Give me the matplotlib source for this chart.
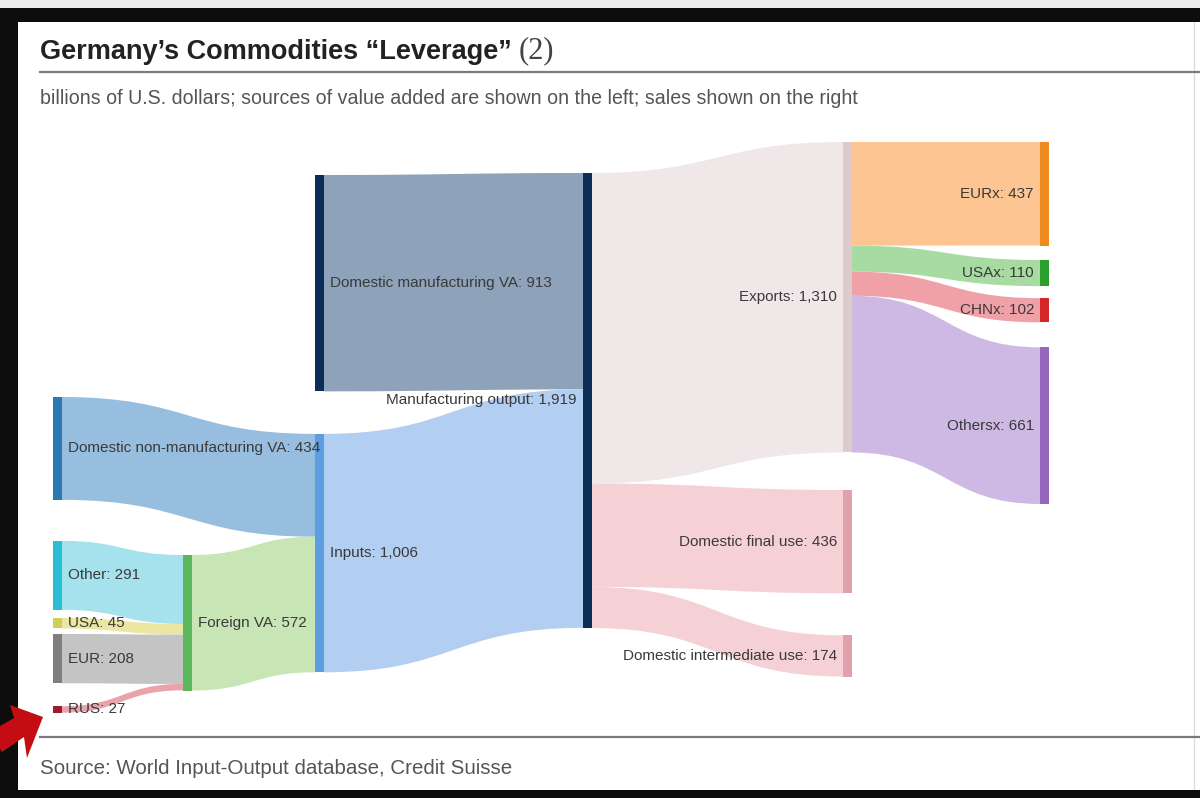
import matplotlib
matplotlib.use('Agg')
import matplotlib.pyplot as plt
from matplotlib.path import Path
from matplotlib.patches import PathPatch, Rectangle, Polygon

# --- data (billions of U.S. dollars) ---
node_names = [
    'Domestic non-manufacturing VA', 'Other', 'USA', 'EUR', 'RUS',
    'Foreign VA',
    'Domestic manufacturing VA', 'Inputs',
    'Manufacturing output',
    'Exports', 'Domestic final use', 'Domestic intermediate use',
    'EURx', 'USAx', 'CHNx', 'Othersx',
]
node_totals = [434, 291, 45, 208, 27, 572, 913, 1006, 1919,
               1310, 436, 174, 437, 110, 102, 661]
node_column = [0, 0, 0, 0, 0, 1, 2, 2, 3, 4, 4, 4, 5, 5, 5, 5]

link_source = [0, 1, 2, 3, 4, 5, 6, 7, 8, 8, 8, 9, 9, 9, 9]
link_target = [7, 5, 5, 5, 5, 7, 8, 8, 9, 10, 11, 12, 13, 14, 15]
link_value = [434, 291, 45, 208, 27, 572, 913, 1006, 1310, 436, 174, 437, 110, 102, 661]

node_colors = [
    '#2b79b4', '#2bbdd4', '#cfcf5c', '#7f7f7f', '#9e1c2a',
    '#5cb85c',
    '#0c2d57', '#5d9de0',
    '#0c2d57',
    '#dccacd', '#e0a1aa', '#e0a1aa',
    '#f08a1e', '#2ca02c', '#d62728', '#9467bd',
]
link_colors = [
    '#98bedf', '#a6e2ee', '#ebe7a2', '#c4c4c4', '#e8a3ab', '#c8e6b5',
    '#8ea3b9', '#b2cef1',
    '#f0e7e9', '#f5d1d6', '#f5d1d6',
    '#fdc591', '#a7dba1', '#f0a1a8', '#cdb9e3',
]

# --- layout (pixels) ---
W, H = 1200, 798
scale = 0.237                      # px per billion
col_x = [53, 183, 315, 583, 843, 1040]
col_top = [397, 555, 175, 173, 142, 142]
node_gap = [0, 41, 8, 5.5, 23, 0, 0, 42.5, 0, 0, 37.5, 42, 0, 14.5, 12, 25]
node_w = 8.5
label_font = 'Liberation Sans'


def layout_nodes():
    tops = []
    last_bottom = {}
    for i, c in enumerate(node_column):
        if c in last_bottom:
            top = last_bottom[c] + node_gap[i]
        else:
            top = col_top[c]
        tops.append(top)
        last_bottom[c] = top + node_totals[i] * scale
    return tops


def link_path(x0, y0a, y0b, x1, y1a, y1b):
    xm = (x0 + x1) / 2
    verts = [(x0, y0a), (xm, y0a), (xm, y1a), (x1, y1a),
             (x1, y1b), (xm, y1b), (xm, y0b), (x0, y0b), (x0, y0a)]
    codes = [Path.MOVETO, Path.CURVE4, Path.CURVE4, Path.CURVE4,
             Path.LINETO, Path.CURVE4, Path.CURVE4, Path.CURVE4, Path.CLOSEPOLY]
    return Path(verts, codes)


def draw_sankey(ax):
    tops = layout_nodes()
    out_off = list(tops)
    in_off = list(tops)

    for k, (s, t, v) in enumerate(zip(link_source, link_target, link_value)):
        h = v * scale
        x0 = col_x[node_column[s]] + node_w
        x1 = col_x[node_column[t]]
        p = link_path(x0, out_off[s], out_off[s] + h, x1, in_off[t], in_off[t] + h)
        ax.add_patch(PathPatch(p, facecolor=link_colors[k], edgecolor='none', zorder=1))
        out_off[s] += h
        in_off[t] += h

    for i, name in enumerate(node_names):
        c = node_column[i]
        h = node_totals[i] * scale
        ax.add_patch(Rectangle((col_x[c], tops[i]), node_w, h,
                               facecolor=node_colors[i], edgecolor='none', zorder=2))
        label = f'{name}: {node_totals[i]:,}'
        yc = tops[i] + h / 2
        if c <= 2:
            ax.text(col_x[c] + node_w + 6, yc, label, ha='left', va='center',
                    fontsize=11, color='#3a3a3a', family=label_font, zorder=3)
        else:
            ax.text(col_x[c] - 6, yc, label, ha='right', va='center',
                    fontsize=11, color='#3a3a3a', family=label_font, zorder=3)


def draw_frame(ax):
    # screenshot frame: grey strip, black borders, red arrow
    ax.add_patch(Rectangle((0, 0), W, 8, facecolor='#ededed', edgecolor='none', zorder=5))
    ax.add_patch(Rectangle((0, 8), W, 14, facecolor='#0d0d0d', edgecolor='none', zorder=5))
    ax.add_patch(Rectangle((0, 8), 18, H - 8, facecolor='#0d0d0d', edgecolor='none', zorder=5))
    ax.add_patch(Rectangle((0, 790), W, 8, facecolor='#0d0d0d', edgecolor='none', zorder=5))
    ax.plot([1194, 1194], [22, 790], color='#dddddd', lw=1, zorder=4)

    ax.plot([40, W], [72, 72], color='#7a7a7a', lw=1.6, zorder=4)
    ax.plot([40, W], [737, 737], color='#7a7a7a', lw=1.6, zorder=4)

    arrow = [(43, 717), (10, 705), (14, 718), (-10, 732), (2, 752),
             (24, 737), (27, 758)]
    ax.add_patch(Polygon(arrow, closed=True, facecolor='#c30d12',
                         edgecolor='none', zorder=6))


def main():
    fig = plt.figure(figsize=(W / 100, H / 100), dpi=100)
    ax = fig.add_axes([0, 0, 1, 1])
    ax.set_xlim(0, W)
    ax.set_ylim(H, 0)
    ax.axis('off')

    draw_sankey(ax)
    draw_frame(ax)

    title = ax.text(40, 59, 'Germany\u2019s Commodities \u201cLeverage\u201d',
                    fontsize=19.5, fontweight='bold', color='#222222',
                    family=label_font, va='baseline', ha='left')
    ax.annotate('(2)', xy=(1, 0), xycoords=title, xytext=(5, 0),
                textcoords='offset points', fontsize=22, color='#444444',
                family='Liberation Serif', va='bottom', ha='left')
    ax.text(40, 104, 'billions of U.S. dollars; sources of value added are shown on the left; '
            'sales shown on the right', fontsize=14.1, color='#555555',
            family=label_font, va='baseline', ha='left')
    ax.text(40, 774, 'Source: World Input-Output database, Credit Suisse',
            fontsize=14.8, color='#555555', family=label_font,
            va='baseline', ha='left')

    fig.savefig('out.png', dpi=100)
    plt.close(fig)


if __name__ == '__main__':
    main()
